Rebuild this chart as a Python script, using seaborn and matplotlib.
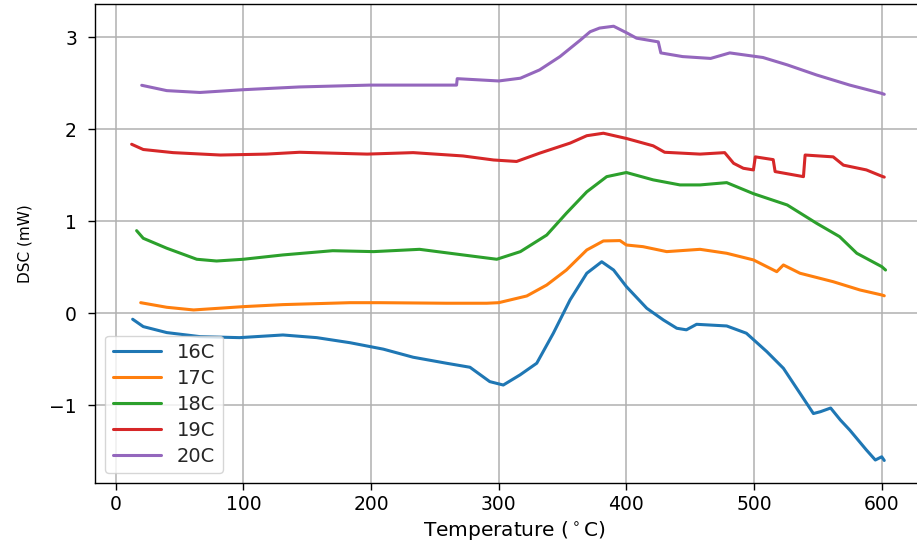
import numpy as np
import pandas as pd
import matplotlib
matplotlib.use("Agg")
import matplotlib.pyplot as plt
import seaborn as sns

# ---- data ----
labels = ["16C", "17C", "18C", "19C", "20C"]

x16 = [13.3, 21.6, 40, 66, 97, 131, 157.5, 183.5, 209.6, 233, 259, 277.5, 293, 303.6,
       316.7, 329.8, 342.8, 355.9, 369, 380.7, 390, 400, 416, 429, 439.5, 447, 455,
       478.6, 494, 510, 523, 536, 546.5, 552, 560, 567.6, 575, 588, 595, 600, 602]
y16 = [-0.065, -0.145, -0.21, -0.254, -0.265, -0.236, -0.265, -0.32, -0.39, -0.478,
       -0.543, -0.587, -0.743, -0.78, -0.67, -0.543, -0.217, 0.145, 0.435, 0.56, 0.47,
       0.29, 0.054, -0.073, -0.163, -0.18, -0.12, -0.138, -0.217, -0.417, -0.598, -0.87,
       -1.09, -1.07, -1.03, -1.16, -1.27, -1.486, -1.595, -1.56, -1.6]

x17 = [19.6, 40, 61, 100, 131, 183.5, 207, 259, 290.6, 300, 322, 337.6, 353, 369, 382,
       395, 400, 413, 431.6, 457.7, 478.6, 499.5, 517.8, 523, 536, 562, 583, 600, 602]
y17 = [0.115, 0.065, 0.036, 0.072, 0.094, 0.115, 0.115, 0.109, 0.109, 0.115, 0.188,
       0.307, 0.47, 0.688, 0.786, 0.79, 0.742, 0.724, 0.67, 0.695, 0.652, 0.58, 0.452,
       0.525, 0.435, 0.343, 0.253, 0.199, 0.19]

x18 = [16.4, 21.6, 40, 63.5, 79, 100, 131, 170, 202, 238, 272, 298.5, 317, 337.6, 353,
       369, 384.6, 400, 421, 442, 457.7, 478.6, 499.5, 526, 549, 567, 580.5, 600, 603]
y18 = [0.898, 0.815, 0.707, 0.587, 0.568, 0.587, 0.634, 0.68, 0.67, 0.695, 0.634, 0.587,
       0.67, 0.85, 1.087, 1.32, 1.485, 1.53, 1.45, 1.395, 1.395, 1.42, 1.30, 1.177, 0.978,
       0.833, 0.652, 0.507, 0.47]

x19 = [12.5, 21.6, 45, 82, 118, 144, 197, 233, 272, 296, 314, 332, 356, 369, 382, 400,
       421, 430, 457.7, 477, 484, 491.6, 499.5, 501, 515, 516.5, 538.7, 540, 562, 570,
       588, 600, 602]
y19 = [1.837, 1.78, 1.746, 1.72, 1.73, 1.75, 1.73, 1.746, 1.71, 1.666, 1.65, 1.74, 1.85,
       1.93, 1.957, 1.90, 1.82, 1.75, 1.73, 1.746, 1.63, 1.576, 1.558, 1.70, 1.67, 1.54,
       1.485, 1.72, 1.70, 1.61, 1.558, 1.49, 1.48]

x20 = [20.4, 40, 66, 100, 144, 199, 267, 267.5, 300, 317, 332, 348, 364, 371.6, 379, 390,
       400, 408, 425, 427, 444, 466, 481, 507, 526, 549, 575, 600, 602]
y20 = [2.478, 2.42, 2.40, 2.43, 2.46, 2.48, 2.48, 2.55, 2.525, 2.555, 2.645, 2.79, 2.97,
       3.06, 3.10, 3.12, 3.05, 2.99, 2.95, 2.83, 2.79, 2.77, 2.83, 2.78, 2.70, 2.59, 2.48,
       2.39, 2.38]

xs = [x16, x17, x18, x19, x20]
ys = [y16, y17, y18, y19, y20]

frames = []
for lab, xx, yy in zip(labels, xs, ys):
    frames.append(pd.DataFrame({"T": xx, "DSC": yy, "series": lab}))
df = pd.concat(frames, ignore_index=True)

# ---- style ----
sns.set_theme(style="ticks", palette="tab10")
plt.rcParams["font.family"] = ["DejaVu Sans"]
plt.rcParams["mathtext.fontset"] = "dejavusans"

fig = plt.figure(figsize=(9.17, 5.47), dpi=100)
ax = fig.add_axes([0.1036, 0.117, 0.915, 0.8766])

sns.lineplot(data=df, x="T", y="DSC", hue="series", hue_order=labels,
             estimator=None, sort=False, units="series", lw=2.2, ax=ax,
             palette=sns.color_palette("tab10", 5))

ax.set_xlim(-16.2, 641.0)
ax.set_ylim(-1.845, 3.367)
ax.set_xticks([0, 100, 200, 300, 400, 500, 600])
ax.set_yticks([-1, 0, 1, 2, 3])
ax.grid(True, color="#b0b0b0", lw=1.1)
ax.set_axisbelow(True)
for s in ax.spines.values():
    s.set_color("black")
    s.set_linewidth(1.0)
ax.spines["right"].set_visible(False)
ax.tick_params(axis="both", direction="out", length=5, width=1, labelsize=13.5,
               colors="black")
ax.tick_params(axis="y", pad=8)

ax.set_xlabel(r"Temperature ($^\circ$C)", fontsize=14.5, color="black", labelpad=4)
ax.set_ylabel("DSC (mW)", fontsize=11, color="black", labelpad=12)

leg = ax.legend(loc="lower left", fontsize=14, handlelength=2.5, frameon=True,
                fancybox=True, framealpha=0.8, edgecolor="#cccccc",
                labelspacing=0.35)
for line in leg.get_lines():
    line.set_linewidth(2.2)

fig.savefig("out.png", dpi=100)
